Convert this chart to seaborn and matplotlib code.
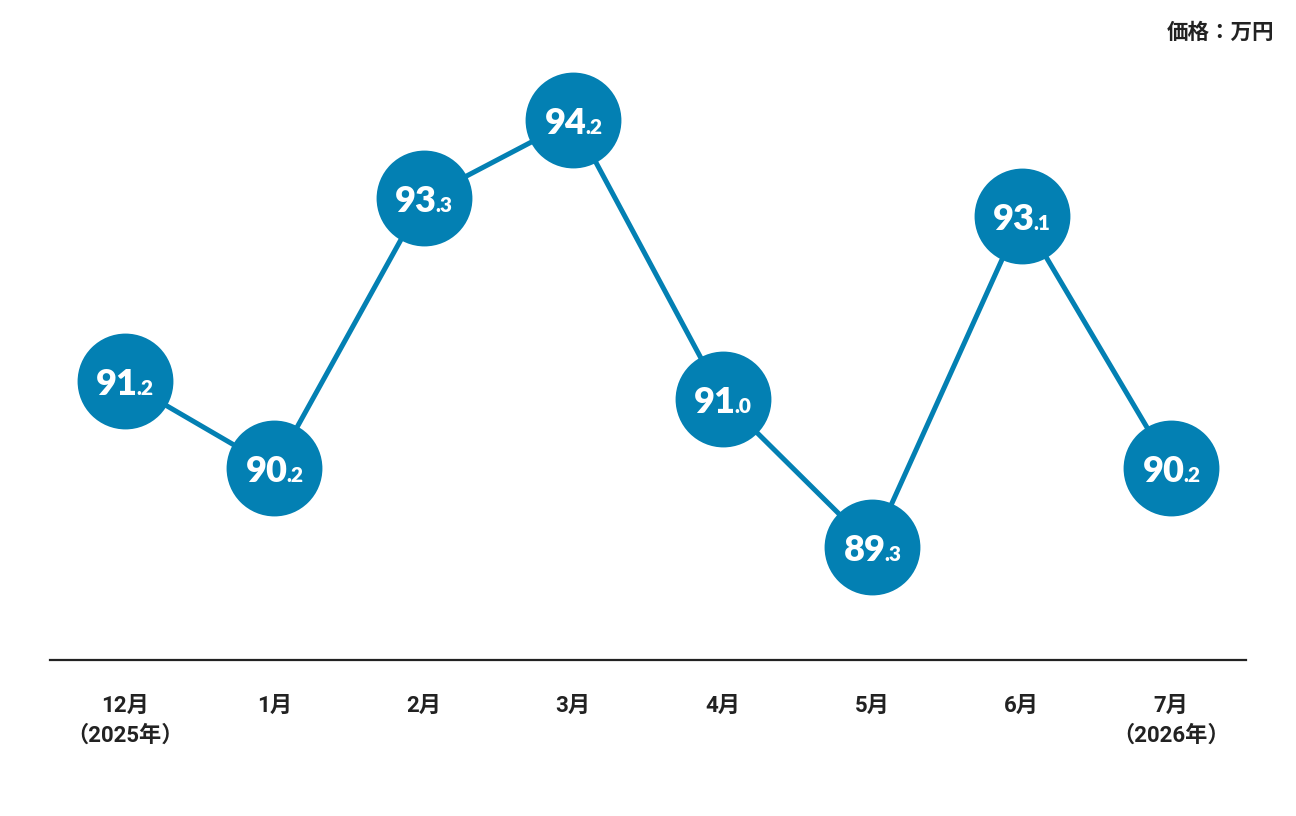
import matplotlib
matplotlib.use("Agg")
import matplotlib.pyplot as plt
import pandas as pd
import seaborn as sns
from matplotlib.offsetbox import AnnotationBbox, HPacker, TextArea

months = ["12月\n（2025年）", "1月", "2月", "3月", "4月", "5月", "6月", "7月\n（2026年）"]
prices = [91.2, 90.2, 93.3, 94.2, 91.0, 89.3, 93.1, 90.2]
unit_label = "価格：万円"

blue = "#0380b3"
dark = "#222222"

sns.set_theme(style="white")
plt.rcParams["font.family"] = ["Roboto", "Noto Sans CJK JP", "DejaVu Sans"]

df = pd.DataFrame({"pos": range(len(months)), "price": prices})

fig = plt.figure(figsize=(12.96, 8.16), dpi=100)
ax = fig.add_axes([50 / 1296, 1 - 660 / 816, 1196 / 1296, 600 / 816])

sns.lineplot(data=df, x="pos", y="price", ax=ax, color=blue, linewidth=3.6,
             marker="o", markersize=69, markeredgewidth=0, clip_on=False)

# value labels: big integer part + small decimal part
for x, v in zip(df["pos"], df["price"]):
    whole, dec = f"{v:.1f}".split(".")
    big = TextArea(whole, textprops=dict(color="white", fontsize=26, fontweight="heavy",
                                         family="Lato"))
    small = TextArea("." + dec, textprops=dict(color="white", fontsize=15, fontweight="heavy",
                                               family="Lato"))
    box = HPacker(children=[big, small], align="baseline", pad=0, sep=-1)
    ab = AnnotationBbox(box, (x, v), xybox=(0, -2.5), boxcoords="offset points",
                        frameon=False, box_alignment=(0.5, 0.5),
                        annotation_clip=False, zorder=5)
    ax.add_artist(ab)

ax.set_xlim(-0.5, len(months) - 0.5)
ax.set_ylim(88.0, 94.89)
ax.set_xticks(range(len(months)))
ax.set_xticklabels(months, fontsize=16, fontweight="bold", color=dark)
for lab in ax.get_xticklabels():
    lab.set_linespacing(1.45)
ax.tick_params(axis="x", length=0, pad=25)
ax.set_yticks([])
ax.set_xlabel(None)
ax.set_ylabel(None)

for side in ["top", "left", "right"]:
    ax.spines[side].set_visible(False)
ax.spines["bottom"].set_color(dark)
ax.spines["bottom"].set_linewidth(1.6)

fig.text(1274 / 1296, 1 - 32 / 816, unit_label, ha="right", va="center",
         fontsize=15.5, fontweight="bold", color=dark,
         family=["Noto Sans CJK JP", "DejaVu Sans"])

fig.savefig("out.png", dpi=100, facecolor="white")
